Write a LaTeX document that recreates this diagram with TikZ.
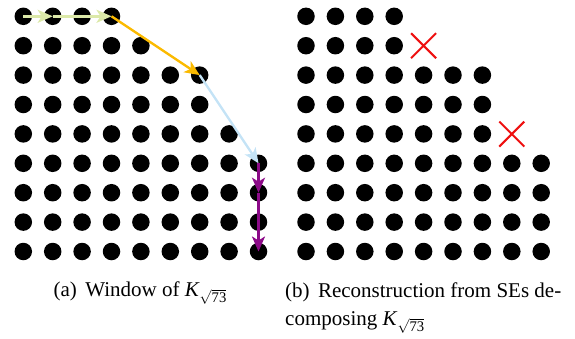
\documentclass[tikz,border=0pt]{standalone}
\usepackage{fontspec}
\usepackage{amsmath}
\setmainfont{Liberation Serif}
\usetikzlibrary{arrows.meta,shapes.misc}
\definecolor{cgreen}{HTML}{DCE9A9}
\definecolor{corange}{HTML}{FBBA00}
\definecolor{cblue}{HTML}{C4E3F6}
\definecolor{cpurple}{HTML}{8C0A88}
\definecolor{cred}{HTML}{EE1111}
\begin{document}
\begin{tikzpicture}[x=1pt,y=-1pt,
  dot/.style={circle,fill=black,inner sep=0pt,minimum size=17.5pt},
  vec/.style={line width=2.4pt,-{Stealth[length=15pt,width=13pt,inset=4pt]}},
  crossmark/.style={draw=cred,cross out,line width=2pt,minimum size=23pt,inner sep=0pt},
  capt/.style={font=\fontsize{21}{25}\selectfont,inner sep=0pt}]
\useasboundingbox (0,0) rectangle (575,338);
% left window
\foreach \n [count=\r from 0] in {4,5,7,7,8,9,9,9,9} {
  \foreach \c in {1,...,\n} {
    \node[dot] (L-\r-\c) at ({23.3+29.4*(\c-1)}, {16.3+29.4*\r}) {};
  }
}
% right reconstruction
\foreach \n [count=\r from 0] in {4,4,7,7,7,9,9,9,9} {
  \foreach \c in {1,...,\n} {
    \node[dot] (R-\r-\c) at ({306+29.4*(\c-1)}, {16.3+29.4*\r}) {};
  }
}
\node[crossmark] (X1) at (423.6,45.7) {};
\node[crossmark] (X2) at (511.8,134.1) {};
% vectors
\draw[vec,cgreen] (L-0-1.center) -- (L-0-2.center);
\draw[vec,cgreen] (L-0-2.center) -- (L-0-4.center);
\draw[vec,corange] (L-0-4.center) -- (L-2-7.center);
\draw[vec,cblue] (L-2-7.center) -- (L-5-9.center);
\draw[vec,cpurple] (L-5-9.center) -- (L-6-9.center);
\draw[vec,cpurple] (L-6-9.center) -- (L-8-9.center);
% captions
\node[capt,anchor=base] (capA) at (140.3,296.3) {(a)\hspace{0.4em}Window of \textit{K}$_{\sqrt{\text{73}}}$};
\node[capt,anchor=base west] (capB1) at (285,297) {(b)\hspace{0.4em}Reconstruction from SEs de-};
\node[capt,anchor=base west] (capB2) at (285,325.3) {composing \textit{K}$_{\sqrt{\text{73}}}$};
\end{tikzpicture}
\end{document}
